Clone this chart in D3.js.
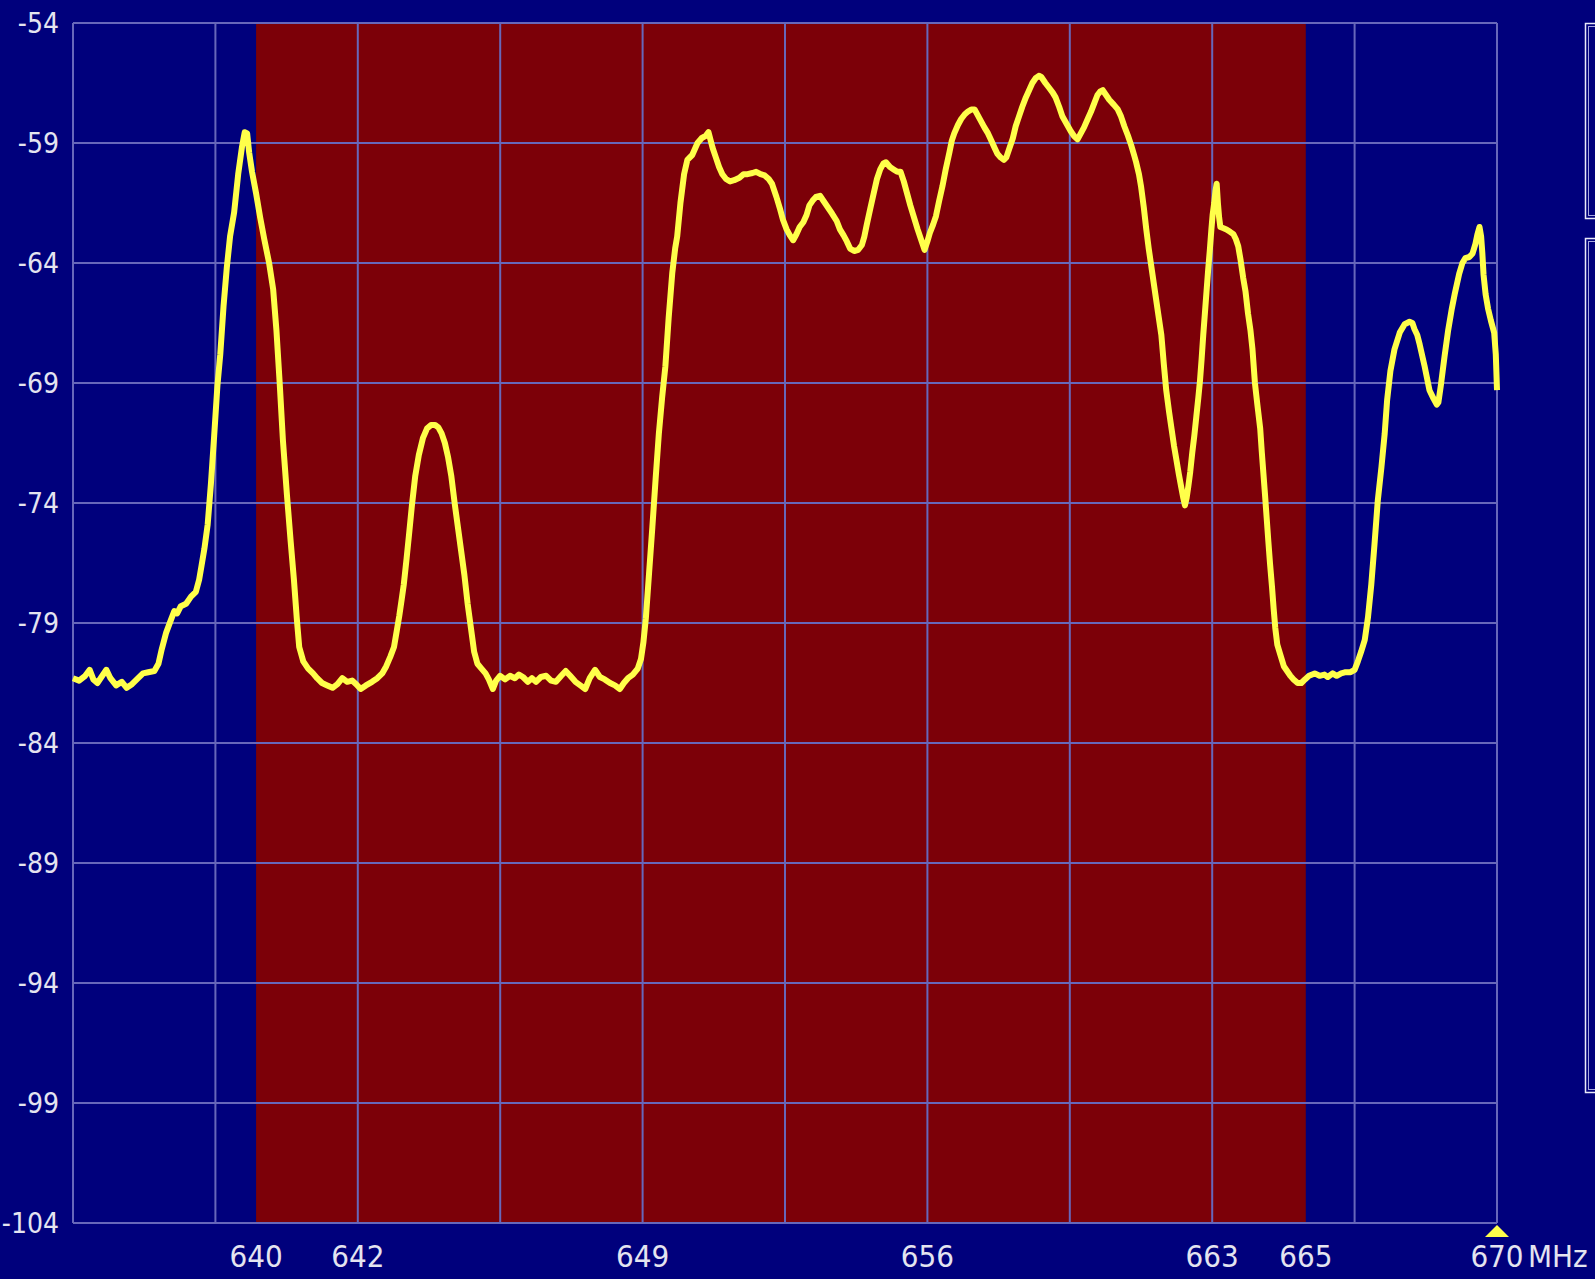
<!DOCTYPE html>
<html>
<head>
<meta charset="utf-8">
<script src="https://cdn.jsdelivr.net/npm/d3@7"></script>
<style>
  html, body { margin: 0; padding: 0; background: #00007c; overflow: hidden; }
  svg { display: block; }
  .lbl { font-family: "DejaVu Sans Condensed", "Liberation Sans Narrow", sans-serif; fill: #e4e4f0; }
</style>
</head>
<body>
<svg id="chart"></svg>
<script>
// spectrum analyser sweep, 635 - 670 MHz
const freqDomain = [635, 670];
const levelDomain = [-104, -54];
const gridFreqs = d3.range(635, 670.01, 3.5);
const freqLabels = [642, 649, 656, 663, 670];
const levelTicks = d3.range(-104, -53, 5);
const channel = [639.5, 665.3];
const unit = "MHz";

// [MHz, dBm]
const trace = [
  [635.00, -81.3], [635.15, -81.4], [635.30, -81.2], [635.41, -80.95], [635.50, -81.35],
  [635.60, -81.5], [635.72, -81.2], [635.82, -80.95], [635.92, -81.3], [636.06, -81.6],
  [636.20, -81.45], [636.32, -81.7], [636.45, -81.55], [636.60, -81.3], [636.72, -81.1],
  [636.85, -81.05], [637.00, -81.0], [637.10, -80.7], [637.18, -80.1], [637.29, -79.4],
  [637.40, -78.9], [637.49, -78.5], [637.56, -78.6], [637.65, -78.3], [637.78, -78.2],
  [637.90, -77.9], [638.02, -77.7], [638.10, -77.2], [638.16, -76.6], [638.23, -75.9],
  [638.31, -74.9], [638.39, -73.2], [638.47, -71.2], [638.55, -69.1], [638.62, -67.8],
  [638.70, -65.8], [638.78, -64.2], [638.86, -62.9], [638.96, -61.9], [639.06, -60.3],
  [639.15, -59.2], [639.22, -58.55], [639.28, -58.6], [639.33, -59.4], [639.40, -60.2],
  [639.50, -61.1], [639.60, -62.1], [639.70, -63.0], [639.82, -64.0], [639.92, -65.1],
  [640.00, -66.8], [640.08, -69.0], [640.16, -71.4], [640.26, -73.7], [640.35, -75.6],
  [640.43, -77.2], [640.50, -78.8], [640.56, -80.0], [640.66, -80.6], [640.78, -80.9],
  [640.90, -81.1], [641.00, -81.3], [641.12, -81.5], [641.25, -81.6], [641.38, -81.7],
  [641.50, -81.55], [641.62, -81.3], [641.74, -81.45], [641.86, -81.4], [641.96, -81.55],
  [642.07, -81.75], [642.20, -81.6], [642.35, -81.45], [642.48, -81.3], [642.60, -81.1],
  [642.70, -80.8], [642.80, -80.4], [642.89, -80.0], [642.96, -79.3], [643.02, -78.7],
  [643.08, -78.0], [643.13, -77.4], [643.20, -76.3], [643.26, -75.3], [643.33, -74.1],
  [643.41, -72.9], [643.50, -72.0], [643.60, -71.3], [643.70, -70.9], [643.80, -70.75],
  [643.90, -70.75], [643.98, -70.85], [644.06, -71.1], [644.14, -71.5], [644.22, -72.1],
  [644.30, -72.9], [644.38, -74.0], [644.46, -75.0], [644.54, -76.0], [644.62, -77.0],
  [644.70, -78.2], [644.78, -79.2], [644.86, -80.2], [644.94, -80.7], [645.04, -80.9],
  [645.14, -81.1], [645.22, -81.35], [645.32, -81.75], [645.40, -81.4], [645.50, -81.2],
  [645.62, -81.35], [645.74, -81.2], [645.86, -81.3], [645.96, -81.15], [646.06, -81.25],
  [646.18, -81.45], [646.28, -81.3], [646.38, -81.45], [646.50, -81.25], [646.63, -81.2],
  [646.75, -81.4], [646.87, -81.45], [647.00, -81.2], [647.11, -81.0], [647.22, -81.2],
  [647.35, -81.45], [647.47, -81.6], [647.59, -81.75], [647.70, -81.3], [647.83, -80.95],
  [647.95, -81.25], [648.07, -81.35], [648.20, -81.5], [648.32, -81.6], [648.44, -81.75],
  [648.54, -81.5], [648.64, -81.3], [648.76, -81.15], [648.88, -80.9], [648.96, -80.5],
  [649.02, -79.8], [649.08, -78.8], [649.16, -76.9], [649.24, -75.0], [649.32, -73.0],
  [649.40, -71.1], [649.48, -69.6], [649.56, -68.3], [649.64, -66.3], [649.73, -64.4],
  [649.80, -63.4], [649.85, -62.9], [649.93, -61.5], [650.02, -60.3], [650.10, -59.7],
  [650.22, -59.5], [650.35, -59.0], [650.45, -58.8], [650.55, -58.7], [650.62, -58.55],
  [650.72, -59.2], [650.80, -59.6], [650.88, -60.0], [650.96, -60.3], [651.05, -60.5],
  [651.15, -60.6], [651.25, -60.55], [651.38, -60.45], [651.48, -60.3], [651.58, -60.3],
  [651.70, -60.25], [651.79, -60.2], [651.90, -60.3], [652.00, -60.35], [652.10, -60.5],
  [652.18, -60.7], [652.29, -61.25], [652.37, -61.7], [652.45, -62.2], [652.54, -62.6],
  [652.62, -62.85], [652.70, -63.05], [652.78, -62.8], [652.86, -62.5], [652.95, -62.3],
  [653.03, -62.0], [653.10, -61.6], [653.18, -61.4], [653.26, -61.25], [653.36, -61.2],
  [653.46, -61.45], [653.56, -61.7], [653.66, -61.95], [653.77, -62.25], [653.85, -62.6],
  [653.94, -62.85], [654.02, -63.1], [654.10, -63.4], [654.20, -63.5], [654.30, -63.45],
  [654.39, -63.25], [654.45, -62.9], [654.51, -62.4], [654.60, -61.7], [654.68, -61.1],
  [654.76, -60.5], [654.84, -60.1], [654.92, -59.85], [654.98, -59.8], [655.08, -60.0],
  [655.17, -60.1], [655.26, -60.2], [655.34, -60.2], [655.42, -60.6], [655.50, -61.1],
  [655.58, -61.6], [655.67, -62.1], [655.76, -62.6], [655.84, -63.0], [655.93, -63.45],
  [656.00, -63.1], [656.06, -62.75], [656.14, -62.4], [656.21, -62.05], [656.29, -61.4],
  [656.37, -60.8], [656.45, -60.1], [656.54, -59.4], [656.60, -58.9], [656.66, -58.6],
  [656.75, -58.25], [656.83, -58.0], [656.92, -57.8], [656.99, -57.7], [657.08, -57.6],
  [657.16, -57.6], [657.24, -57.85], [657.32, -58.1], [657.40, -58.35], [657.49, -58.6],
  [657.57, -58.9], [657.65, -59.2], [657.72, -59.45], [657.80, -59.6], [657.88, -59.7],
  [657.94, -59.6], [658.02, -59.2], [658.10, -58.8], [658.17, -58.3], [658.25, -57.9],
  [658.33, -57.5], [658.42, -57.1], [658.50, -56.8], [658.58, -56.5], [658.66, -56.3],
  [658.74, -56.2], [658.80, -56.25], [658.90, -56.5], [658.99, -56.7], [659.08, -56.9],
  [659.15, -57.1], [659.24, -57.5], [659.32, -57.9], [659.42, -58.2], [659.52, -58.5],
  [659.60, -58.7], [659.69, -58.85], [659.77, -58.6], [659.85, -58.35], [659.94, -58.0],
  [660.02, -57.7], [660.10, -57.35], [660.18, -57.0], [660.25, -56.85], [660.31, -56.8],
  [660.39, -57.0], [660.47, -57.2], [660.58, -57.4], [660.68, -57.6], [660.76, -57.9],
  [660.84, -58.3], [660.93, -58.7], [661.01, -59.1], [661.08, -59.5], [661.13, -59.8],
  [661.20, -60.3], [661.25, -60.8], [661.32, -61.7], [661.38, -62.6], [661.44, -63.4],
  [661.50, -64.1], [661.56, -64.8], [661.62, -65.5], [661.68, -66.2], [661.75, -67.0],
  [661.81, -68.2], [661.87, -69.3], [661.94, -70.2], [662.00, -70.9], [662.06, -71.6],
  [662.12, -72.2], [662.18, -72.8], [662.24, -73.35], [662.29, -73.8], [662.33, -74.1],
  [662.37, -73.8], [662.41, -73.35], [662.46, -72.7], [662.51, -71.9], [662.56, -71.2],
  [662.61, -70.4], [662.66, -69.6], [662.70, -68.9], [662.74, -68.0], [662.78, -67.0],
  [662.82, -66.1], [662.86, -65.2], [662.90, -64.3], [662.94, -63.5], [662.98, -62.6],
  [663.01, -62.0], [663.05, -61.5], [663.08, -61.0], [663.11, -60.7], [663.14, -61.5],
  [663.17, -62.1], [663.20, -62.5], [663.28, -62.55], [663.35, -62.6], [663.44, -62.7],
  [663.52, -62.8], [663.58, -63.0], [663.64, -63.3], [663.70, -63.9], [663.76, -64.6],
  [663.82, -65.2], [663.88, -66.1], [663.94, -66.8], [663.99, -67.6], [664.05, -69.0],
  [664.11, -69.9], [664.18, -70.9], [664.22, -71.9], [664.26, -72.8], [664.30, -73.7],
  [664.34, -74.65], [664.38, -75.6], [664.42, -76.5], [664.47, -77.5], [664.51, -78.4],
  [664.55, -79.2], [664.60, -79.9], [664.67, -80.3], [664.76, -80.8], [664.84, -81.0],
  [664.92, -81.2], [665.00, -81.35], [665.10, -81.5], [665.19, -81.5], [665.28, -81.35],
  [665.38, -81.2], [665.52, -81.1], [665.64, -81.2], [665.76, -81.15], [665.84, -81.25],
  [665.96, -81.1], [666.06, -81.2], [666.17, -81.1], [666.28, -81.05], [666.40, -81.05],
  [666.50, -80.95], [666.58, -80.6], [666.66, -80.2], [666.75, -79.7], [666.83, -78.75],
  [666.91, -77.4], [666.99, -75.7], [667.07, -73.9], [667.16, -72.5], [667.24, -71.1],
  [667.30, -69.7], [667.38, -68.5], [667.48, -67.6], [667.61, -66.9], [667.73, -66.55],
  [667.85, -66.45], [667.92, -66.5], [667.97, -66.75], [668.04, -67.0], [668.10, -67.4],
  [668.22, -68.3], [668.34, -69.3], [668.44, -69.65], [668.52, -69.9], [668.56, -69.8],
  [668.62, -69.1], [668.71, -67.9], [668.80, -66.8], [668.89, -65.9], [668.96, -65.3],
  [669.07, -64.45], [669.15, -64.0], [669.22, -63.8], [669.32, -63.75], [669.40, -63.6],
  [669.47, -63.2], [669.52, -62.8], [669.57, -62.5], [669.61, -62.9], [669.64, -63.6],
  [669.67, -64.5], [669.72, -65.3], [669.78, -65.9], [669.85, -66.4], [669.93, -66.9],
  [669.97, -67.8], [670.00, -69.3]
];

const W = 1595, H = 1279;
const margin = { top: 23, right: 98, bottom: 56, left: 73 };
const iw = W - margin.left - margin.right;
const ih = H - margin.top - margin.bottom;

const svg = d3.select("#chart").attr("width", W).attr("height", H);
svg.append("rect").attr("width", W).attr("height", H).attr("fill", "#00007c");

const x = d3.scaleLinear().domain(freqDomain).range([0, iw]);
const y = d3.scaleLinear().domain(levelDomain).range([ih, 0]);

const g = svg.append("g").attr("transform", `translate(${margin.left},${margin.top})`);

// occupied channel
g.append("rect")
  .attr("x", x(channel[0]))
  .attr("y", 0)
  .attr("width", x(channel[1]) - x(channel[0]))
  .attr("height", ih)
  .attr("fill", "#7c0008");

// grid
const gridColor = "#6767ba";
g.append("g")
  .selectAll("line")
  .data(gridFreqs)
  .join("line")
  .attr("x1", (d) => x(d)).attr("x2", (d) => x(d))
  .attr("y1", 0).attr("y2", ih)
  .attr("stroke", gridColor).attr("stroke-width", 2);

g.append("g")
  .selectAll("line")
  .data(levelTicks)
  .join("line")
  .attr("x1", 0).attr("x2", iw)
  .attr("y1", (d) => y(d)).attr("y2", (d) => y(d))
  .attr("stroke", gridColor).attr("stroke-width", 2);

// trace
const line = d3.line()
  .x((d) => x(d[0]))
  .y((d) => y(d[1]));

g.append("path")
  .datum(trace)
  .attr("d", line)
  .attr("fill", "none")
  .attr("stroke", "#ffff4a")
  .attr("stroke-width", 6)
  .attr("stroke-linejoin", "round");

// level labels
g.append("g")
  .selectAll("text")
  .data(levelTicks)
  .join("text")
  .attr("class", "lbl")
  .attr("x", -14)
  .attr("y", (d) => y(d))
  .attr("dy", "0.36em")
  .attr("text-anchor", "end")
  .attr("font-size", 28)
  .text((d) => d);

// frequency labels: grid values and channel edges
const xLabels = freqLabels.map((f) => ({ f, t: String(f) }))
  .concat(channel.map((f) => ({ f, t: String(Math.round(f)) })));

g.append("g")
  .selectAll("text")
  .data(xLabels)
  .join("text")
  .attr("class", "lbl")
  .attr("x", (d) => x(d.f))
  .attr("y", ih + 33)
  .attr("dy", "0.36em")
  .attr("text-anchor", "middle")
  .attr("font-size", 31)
  .text((d) => d.t);

g.append("text")
  .attr("class", "lbl")
  .attr("x", x(freqDomain[1]) + 31)
  .attr("y", ih + 33)
  .attr("dy", "0.36em")
  .attr("font-size", 31)
  .text(unit);

// stop-frequency marker
const mx = x(freqDomain[1]);
g.append("path")
  .attr("d", `M${mx},${ih + 2}L${mx + 12},${ih + 14}L${mx - 12},${ih + 14}Z`)
  .attr("fill", "#ffff4a");

// side panels (cut off at the window edge)
const panels = [[23, 218], [238, 1092]];
svg.append("g")
  .selectAll("g")
  .data(panels)
  .join("g")
  .each(function (d) {
    const p = d3.select(this);
    p.append("rect")
      .attr("x", 1585.5).attr("y", d[0] + 0.5)
      .attr("width", 40).attr("height", d[1] - d[0])
      .attr("fill", "none").attr("stroke", "#e8e8f8").attr("stroke-width", 1.5);
    p.append("rect")
      .attr("x", 1588.5).attr("y", d[0] + 3.5)
      .attr("width", 40).attr("height", d[1] - d[0] - 6)
      .attr("fill", "none").attr("stroke", "#a8a8e0").attr("stroke-width", 1);
  });
</script>
</body>
</html>
